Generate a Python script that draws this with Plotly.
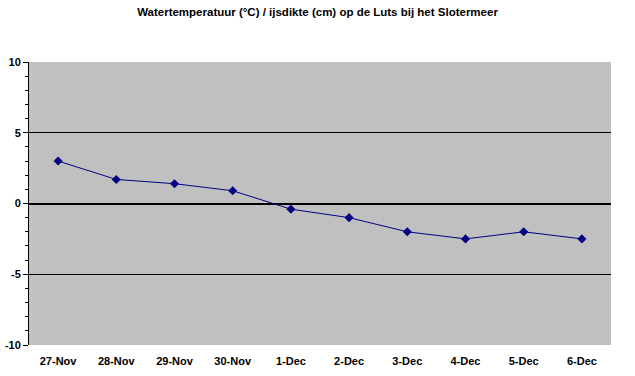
import plotly.graph_objects as go

categories = ["27-Nov", "28-Nov", "29-Nov", "30-Nov", "1-Dec", "2-Dec", "3-Dec", "4-Dec", "5-Dec", "6-Dec"]
temperature = [3.0, 1.7, 1.4, 0.9, -0.4, -1.0, -2.0, -2.5, -2.0, -2.5]
y_ticks = [-10, -5, 0, 5, 10]
y_tick_labels = ["-10", "-5", "0", "5", "10"]

FONT = "Liberation Sans, Arial, sans-serif"

fig = go.Figure()
fig.add_trace(go.Scatter(
    x=categories, y=temperature, mode="lines+markers",
    line=dict(color="#000080", width=1),
    marker=dict(symbol="diamond", size=7, color="#000080"),
    showlegend=False,
))

fig.update_layout(
    width=635, height=376,
    margin=dict(l=29, r=24, t=62, b=31, autoexpand=False),
    paper_bgcolor="white", plot_bgcolor="#C0C0C0",
    title=dict(text="Watertemperatuur (°C) / ijsdikte (cm) op de Luts bij het Slotermeer",
               x=0.5, xanchor="center", y=1 - 12 / 376, yanchor="middle",
               font=dict(family=FONT, size=11.5, color="black", weight="bold")),
    font=dict(family=FONT, size=11, color="black"),
)
fig.update_xaxes(
    type="category", range=[-0.5, 9.5], showgrid=False, showline=False,
    zeroline=False, ticks="", automargin=False, ticklabelstandoff=8,
    tickfont=dict(family=FONT, size=11, color="black", weight="bold"),
)
fig.update_yaxes(
    range=[-10, 10], tickvals=y_ticks, ticktext=y_tick_labels,
    showgrid=True, gridcolor="black", gridwidth=1,
    zeroline=True, zerolinecolor="black", zerolinewidth=2,
    showline=True, linecolor="black", linewidth=1, automargin=False,
    ticks="outside", ticklen=5, tickcolor="black",
    minor=dict(dtick=1, ticks="outside", ticklen=3, tickcolor="black", showgrid=False),
    tickfont=dict(family=FONT, size=11, color="black", weight="bold"),
)

fig.write_html("out.html", config={"displayModeBar": False},
               post_script="document.body.style.margin='0';document.body.style.overflow='hidden';")
